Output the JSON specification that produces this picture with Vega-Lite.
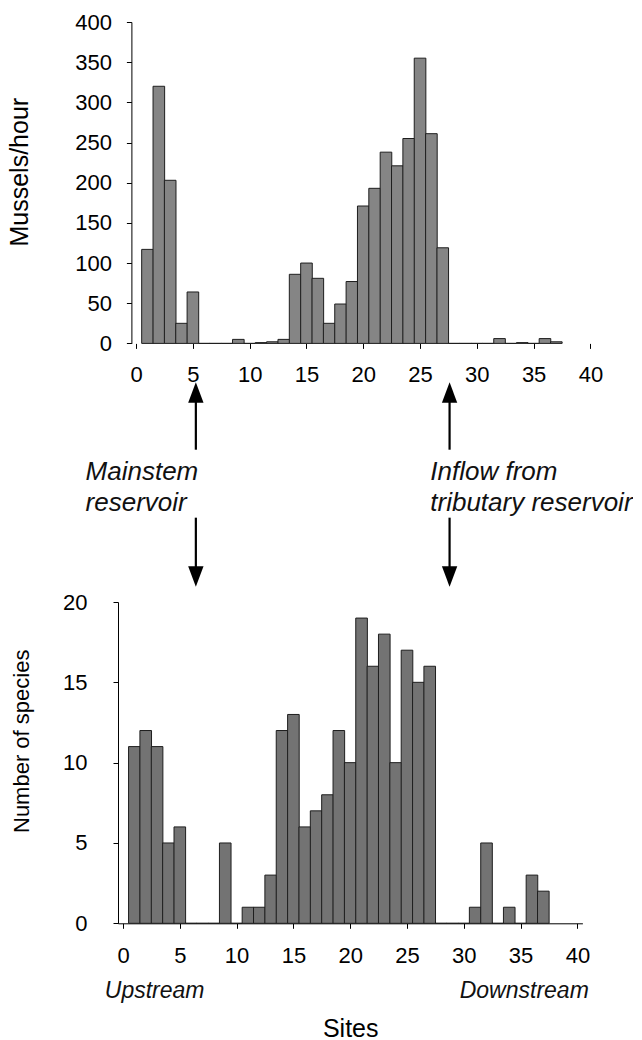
{
  "$schema": "https://vega.github.io/schema/vega-lite/v6.json",
  "background": "white",
  "padding": {"left": 8, "top": 11, "right": 0, "bottom": 0},
  "config": {
    "font": "Liberation Sans",
    "view": {"stroke": null},
    "axis": {
      "grid": false,
      "domainColor": "black",
      "domainWidth": 1,
      "tickColor": "black",
      "tickWidth": 1,
      "tickSize": 5,
      "labelColor": "black",
      "labelFont": "Liberation Sans",
      "labelFontSize": 22,
      "titleColor": "black",
      "titleFont": "Liberation Sans",
      "titleFontWeight": "normal"
    }
  },
  "datasets": {
    "mussels": [
      {"site": 1, "rate": 117}, {"site": 2, "rate": 320}, {"site": 3, "rate": 203}, {"site": 4, "rate": 25},
      {"site": 5, "rate": 64}, {"site": 6, "rate": 0}, {"site": 7, "rate": 0}, {"site": 8, "rate": 0},
      {"site": 9, "rate": 5}, {"site": 10, "rate": 0}, {"site": 11, "rate": 1}, {"site": 12, "rate": 2},
      {"site": 13, "rate": 5}, {"site": 14, "rate": 86}, {"site": 15, "rate": 100}, {"site": 16, "rate": 81},
      {"site": 17, "rate": 25}, {"site": 18, "rate": 49}, {"site": 19, "rate": 77}, {"site": 20, "rate": 171},
      {"site": 21, "rate": 193}, {"site": 22, "rate": 238}, {"site": 23, "rate": 221}, {"site": 24, "rate": 255},
      {"site": 25, "rate": 355}, {"site": 26, "rate": 261}, {"site": 27, "rate": 119}, {"site": 28, "rate": 0},
      {"site": 29, "rate": 0}, {"site": 30, "rate": 0}, {"site": 31, "rate": 0}, {"site": 32, "rate": 6},
      {"site": 33, "rate": 0}, {"site": 34, "rate": 1}, {"site": 35, "rate": 0}, {"site": 36, "rate": 6},
      {"site": 37, "rate": 2}
    ],
    "species": [
      {"site": 1, "n": 11}, {"site": 2, "n": 12}, {"site": 3, "n": 11}, {"site": 4, "n": 5},
      {"site": 5, "n": 6}, {"site": 6, "n": 0}, {"site": 7, "n": 0}, {"site": 8, "n": 0},
      {"site": 9, "n": 5}, {"site": 10, "n": 0}, {"site": 11, "n": 1}, {"site": 12, "n": 1},
      {"site": 13, "n": 3}, {"site": 14, "n": 12}, {"site": 15, "n": 13}, {"site": 16, "n": 6},
      {"site": 17, "n": 7}, {"site": 18, "n": 8}, {"site": 19, "n": 12}, {"site": 20, "n": 10},
      {"site": 21, "n": 19}, {"site": 22, "n": 16}, {"site": 23, "n": 18}, {"site": 24, "n": 10},
      {"site": 25, "n": 17}, {"site": 26, "n": 15}, {"site": 27, "n": 16}, {"site": 28, "n": 0},
      {"site": 29, "n": 0}, {"site": 30, "n": 0}, {"site": 31, "n": 1}, {"site": 32, "n": 5},
      {"site": 33, "n": 0}, {"site": 34, "n": 1}, {"site": 35, "n": 0}, {"site": 36, "n": 3},
      {"site": 37, "n": 2}
    ],
    "shafts": [
      {"site": 5.26, "from": -61, "to": -132.3},
      {"site": 5.26, "from": -216.9, "to": -290},
      {"site": 27.6, "from": -61, "to": -132.3},
      {"site": 27.6, "from": -216.9, "to": -290}
    ],
    "heads": [
      {"site": 5.26, "at": -61, "dir": "up"},
      {"site": 5.26, "at": -290, "dir": "down"},
      {"site": 27.6, "at": -61, "dir": "up"},
      {"site": 27.6, "at": -290, "dir": "down"}
    ],
    "notes": [
      {"label": "Mainstem", "site": -4.45, "at": -169.6},
      {"label": "reservoir", "site": -4.45, "at": -208.2},
      {"label": "Inflow from", "site": 25.9, "at": -169.6},
      {"label": "tributary reservoir", "site": 25.9, "at": -208.2}
    ],
    "ends": [
      {"label": "Upstream", "site": -1.6, "at": -4.65},
      {"label": "Downstream", "site": 29.64, "at": -4.65}
    ]
  },
  "concat": [
    {
      "width": 477.4,
      "height": 321.4,
      "layer": [
        {
          "data": {"name": "mussels"},
          "mark": {"type": "bar", "width": 11.6, "fill": "#858585", "stroke": "#1e1e1e", "strokeWidth": 1},
          "encoding": {
            "x": {
              "field": "site", "type": "quantitative",
              "scale": {"domain": [-1.155, 40], "nice": false, "zero": false},
              "axis": {"values": [0, 5, 10, 15, 20, 25, 30, 35, 40], "title": null, "domain": false, "labelPadding": 16, "labelFlush": false}
            },
            "y": {
              "field": "rate", "type": "quantitative",
              "scale": {"domain": [0, 400], "nice": false},
              "axis": {
                "values": [0, 50, 100, 150, 200, 250, 300, 350, 400],
                "offset": -13.4,
                "title": "Mussels/hour", "titleFontSize": 25,
                "titleAngle": -90, "titleAlign": "center", "titleBaseline": "alphabetic",
                "titleX": -103.4, "titleY": 149.7,
                "labelPadding": 15, "labelFlush": false
              }
            }
          }
        },
        {
          "mark": {"type": "rule", "color": "black", "strokeWidth": 1},
          "encoding": {
            "x": {"datum": 0, "type": "quantitative", "scale": {"domain": [-1.155, 40], "nice": false, "zero": false}},
            "x2": {"datum": 40},
            "y": {"datum": 0, "type": "quantitative", "scale": {"domain": [0, 400], "nice": false}}
          }
        },
        {
          "data": {"name": "shafts"},
          "mark": {"type": "rule", "color": "black", "strokeWidth": 2.2, "clip": false},
          "encoding": {
            "x": {"field": "site", "type": "quantitative", "scale": {"domain": [-1.155, 40], "nice": false, "zero": false}},
            "y": {"field": "from", "type": "quantitative", "scale": {"domain": [0, 400], "nice": false}},
            "y2": {"field": "to"}
          }
        },
        {
          "data": {"name": "heads"},
          "transform": [{"filter": "datum.dir === 'up'"}],
          "mark": {"type": "point", "shape": "M0,-1L0.75,1L-0.75,1Z", "filled": true, "color": "black", "opacity": 1, "size": 420, "clip": false},
          "encoding": {
            "x": {"field": "site", "type": "quantitative", "scale": {"domain": [-1.155, 40], "nice": false, "zero": false}},
            "y": {"field": "at", "type": "quantitative", "scale": {"domain": [0, 400], "nice": false}}
          }
        },
        {
          "data": {"name": "heads"},
          "transform": [{"filter": "datum.dir === 'down'"}],
          "mark": {"type": "point", "shape": "M0,1L0.75,-1L-0.75,-1Z", "filled": true, "color": "black", "opacity": 1, "size": 420, "clip": false},
          "encoding": {
            "x": {"field": "site", "type": "quantitative", "scale": {"domain": [-1.155, 40], "nice": false, "zero": false}},
            "y": {"field": "at", "type": "quantitative", "scale": {"domain": [0, 400], "nice": false}}
          }
        },
        {
          "data": {"name": "notes"},
          "mark": {"type": "text", "align": "left", "baseline": "alphabetic", "fontStyle": "italic", "fontSize": 26, "font": "Liberation Sans", "color": "#111111", "clip": false},
          "encoding": {
            "x": {"field": "site", "type": "quantitative", "scale": {"domain": [-1.155, 40], "nice": false, "zero": false}},
            "y": {"field": "at", "type": "quantitative", "scale": {"domain": [0, 400], "nice": false}},
            "text": {"field": "label"}
          }
        }
      ]
    },
    {
      "width": 464.4,
      "height": 321.3,
      "layer": [
        {
          "data": {"name": "species"},
          "mark": {"type": "bar", "width": 11.6, "fill": "#737373", "stroke": "#1e1e1e", "strokeWidth": 1},
          "encoding": {
            "x": {
              "field": "site", "type": "quantitative",
              "scale": {"domain": [0, 40], "nice": false, "zero": false},
              "axis": {
                "values": [0, 5, 10, 15, 20, 25, 30, 35, 40], "labelPadding": 17, "labelFlush": false,
                "title": "Sites", "titleFontSize": 25, "titleBaseline": "alphabetic", "titleAlign": "center",
                "titleX": 232.2, "titleY": 113
              }
            },
            "y": {
              "field": "n", "type": "quantitative",
              "scale": {"domain": [0, 20], "nice": false},
              "axis": {
                "values": [0, 5, 10, 15, 20],
                "title": "Number of species", "titleFontSize": 22,
                "titleAngle": -90, "titleAlign": "center", "titleBaseline": "alphabetic",
                "titleX": -89.3, "titleY": 138.8,
                "labelPadding": 26, "labelFlush": false
              }
            }
          }
        },
        {
          "data": {"name": "ends"},
          "mark": {"type": "text", "align": "left", "baseline": "alphabetic", "fontStyle": "italic", "fontSize": 23, "font": "Liberation Sans", "color": "#111111", "clip": false},
          "encoding": {
            "x": {"field": "site", "type": "quantitative", "scale": {"domain": [0, 40], "nice": false, "zero": false}},
            "y": {"field": "at", "type": "quantitative", "scale": {"domain": [0, 20], "nice": false}},
            "text": {"field": "label"}
          }
        }
      ]
    }
  ],
  "columns": 1,
  "bounds": "full",
  "spacing": 4
}
